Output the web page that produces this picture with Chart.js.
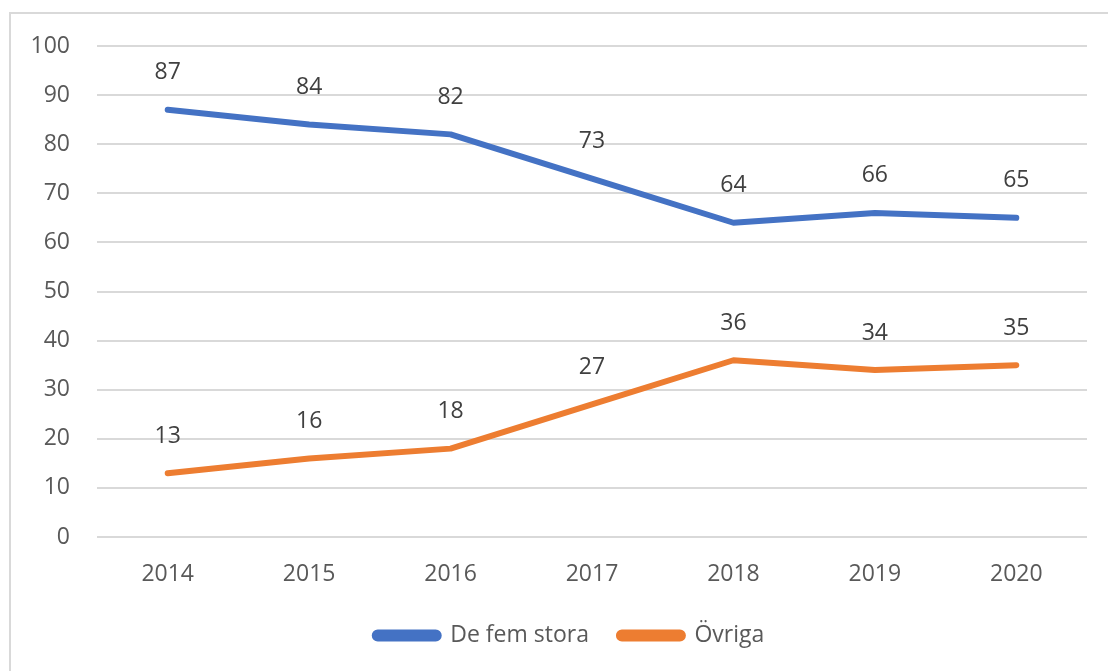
<!DOCTYPE html>
<html>
<head>
<meta charset="utf-8">
<script src="https://cdn.jsdelivr.net/npm/chart.js@4/dist/chart.umd.min.js"></script>
<style>
  html, body { margin: 0; padding: 0; background: #fff; overflow: hidden; }
  #frame { position: absolute; left: 9px; top: 12px; width: 1200px; height: 800px; border-left: 2px solid #d9d9d9; border-top: 2px solid #d9d9d9; }
  #wrap { position: absolute; left: 0; top: 0; width: 1108px; height: 671px; }
</style>
</head>
<body>
<div id="frame"></div>
<div id="wrap"><canvas id="c" width="1108" height="671"></canvas></div>
<script>
const years = ['2014', '2015', '2016', '2017', '2018', '2019', '2020'];
const deFemStora = [87, 84, 82, 73, 64, 66, 65];
const ovriga = [13, 16, 18, 27, 36, 34, 35];
const seriesNames = ['De fem stora', 'Övriga'];

const FONT = '"Open Sans", sans-serif';
const TXT = '#595959';
const FS = 23;

const labelPlugin = {
  id: 'pointLabels',
  afterLayout(chart) {
    if (chart.legend) { chart.legend.left += 26; chart.legend.right += 26; }
  },
  afterDatasetsDraw(chart) {
    const ctx = chart.ctx;
    ctx.save();
    ctx.font = FS + 'px ' + FONT;
    ctx.fillStyle = '#404040';
    ctx.textAlign = 'center';
    ctx.textBaseline = 'middle';
    chart.data.datasets.forEach((ds, i) => {
      const meta = chart.getDatasetMeta(i);
      meta.data.forEach((pt, j) => {
        ctx.fillText(String(ds.data[j]), pt.x, pt.y - 37);
      });
    });
    ctx.restore();
  }
};

new Chart(document.getElementById('c'), {
  type: 'line',
  data: {
    labels: years,
    datasets: [
      { label: seriesNames[0], data: deFemStora, borderColor: '#4472C4', backgroundColor: '#4472C4', borderWidth: 6, pointRadius: 0, tension: 0, borderCapStyle: 'round', borderJoinStyle: 'round' },
      { label: seriesNames[1], data: ovriga, borderColor: '#ED7D31', backgroundColor: '#ED7D31', borderWidth: 6, pointRadius: 0, tension: 0, borderCapStyle: 'round', borderJoinStyle: 'round' }
    ]
  },
  options: {
    responsive: false,
    animation: false,
    layout: { padding: { top: 46, right: 21, left: 0, bottom: 14 } },
    scales: {
      x: {
        offset: true,
        grid: { display: false, drawTicks: false },
        border: { display: false },
        ticks: { color: TXT, font: { family: FONT, size: FS }, padding: 24, maxRotation: 0 },
        afterFit(s) { s.height = 57; }
      },
      y: {
        min: 0, max: 100,
        grid: { color: '#d9d9d9', lineWidth: 2, drawTicks: false },
        border: { display: false },
        ticks: { stepSize: 10, color: TXT, font: { family: FONT, size: FS }, padding: 27 },
        afterFit(s) { s.width = 97; }
      }
    },
    plugins: {
      legend: {
        position: 'bottom',
        labels: { color: TXT, font: { family: FONT, size: FS }, boxWidth: 64, boxHeight: 6, padding: 30, useBorderRadius: true, borderRadius: 3 }
      },
      tooltip: { enabled: false }
    }
  },
  plugins: [labelPlugin]
});
</script>
</body>
</html>
